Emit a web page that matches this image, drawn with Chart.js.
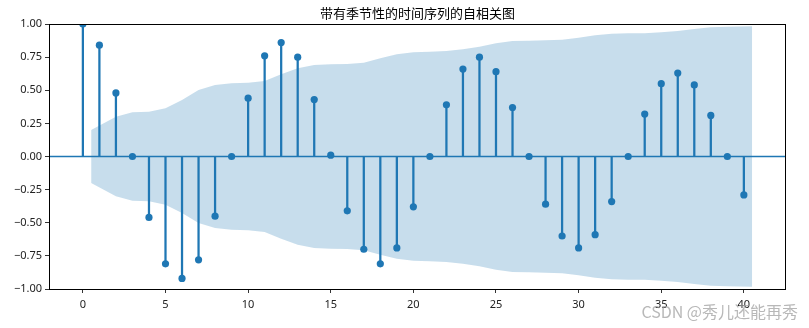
<!DOCTYPE html>
<html>
<head>
<meta charset="utf-8">
<script src="https://cdn.jsdelivr.net/npm/chart.js@4"></script>
<style>
  html, body { margin: 0; padding: 0; background: #fff; }
  #wrap { width: 809px; height: 328px; }
</style>
</head>
<body>
<div id="wrap"><canvas id="acfChart" width="809" height="328"></canvas></div>
<script>
// autocorrelation per lag
const lags = [0, 1, 2, 3, 4, 5, 6, 7, 8, 9, 10, 11, 12, 13, 14, 15, 16, 17, 18, 19, 20,
  21, 22, 23, 24, 25, 26, 27, 28, 29, 30, 31, 32, 33, 34, 35, 36, 37, 38, 39, 40];
const acfValues = [1.00, 0.84, 0.48, 0.00, -0.46, -0.81, -0.92, -0.78, -0.45, 0.00,
  0.44, 0.76, 0.86, 0.75, 0.43, 0.01, -0.41, -0.70, -0.81, -0.69,
  -0.38, 0.00, 0.39, 0.66, 0.75, 0.64, 0.37, 0.00, -0.36, -0.60,
  -0.69, -0.59, -0.34, 0.00, 0.32, 0.55, 0.63, 0.54, 0.31, 0.00, -0.29];

// 95% confidence band (symmetric around zero)
const bandLags = [0.5, 2, 3, 4, 5, 6, 7, 8, 9, 10, 11, 12, 13, 14, 15, 16, 17, 18, 19, 20,
  21, 22, 23, 24, 25, 26, 27, 28, 29, 30, 31, 32, 33, 34, 35, 36, 37, 38, 39, 40.5];
const bandUpper = [0.200, 0.300, 0.334, 0.338, 0.364, 0.426, 0.502, 0.540, 0.552, 0.557,
  0.570, 0.620, 0.666, 0.690, 0.696, 0.698, 0.708, 0.741, 0.771, 0.786,
  0.791, 0.796, 0.809, 0.829, 0.854, 0.872, 0.874, 0.877, 0.882, 0.897,
  0.915, 0.927, 0.930, 0.930, 0.937, 0.947, 0.962, 0.975, 0.980, 0.983];

const xTicks = [0, 5, 10, 15, 20, 25, 30, 35, 40];
const yTicks = [-1.00, -0.75, -0.50, -0.25, 0.00, 0.25, 0.50, 0.75, 1.00];

const titleText = '带有季节性的时间序列的自相关图';
const watermark = 'CSDN @秀儿还能再秀';

const blue = '#1f77b4';
const tickFont = { family: '"Noto Sans", "DejaVu Sans", sans-serif', size: 11 };

// zero line + black frame around the plot area
const framePlugin = {
  id: 'frame',
  afterDatasetsDraw(chart) {
    const { ctx, chartArea, scales } = chart;
    const y0 = scales.y.getPixelForValue(0);
    ctx.save();
    ctx.strokeStyle = blue;
    ctx.lineWidth = 1.5;
    ctx.beginPath();
    ctx.moveTo(chartArea.left, y0);
    ctx.lineTo(chartArea.right, y0);
    ctx.stroke();
    ctx.restore();
  },
  afterDraw(chart) {
    const { ctx, chartArea } = chart;
    ctx.save();
    ctx.strokeStyle = '#000';
    ctx.lineWidth = 1;
    ctx.strokeRect(chartArea.left + 0.5, chartArea.top + 0.5,
      chartArea.right - chartArea.left - 1, chartArea.bottom - chartArea.top);
    // site watermark
    ctx.font = '16px "Noto Sans CJK SC", sans-serif';
    ctx.fillStyle = 'rgba(160,160,160,0.75)';
    ctx.textAlign = 'right';
    ctx.textBaseline = 'middle';
    ctx.fillText(watermark, 798, 312);
    ctx.restore();
  }
};

const fmt = v => (v < 0 ? '\u2212' : '') + Math.abs(v).toFixed(2);

new Chart(document.getElementById('acfChart'), {
  data: {
    datasets: [
      {
        type: 'line',
        label: 'upper',
        data: bandLags.map((x, i) => ({ x, y: bandUpper[i] })),
        borderWidth: 0,
        pointRadius: 0,
        tension: 0,
        fill: '+1',
        backgroundColor: 'rgba(31,119,180,0.25)',
        order: 3
      },
      {
        type: 'line',
        label: 'lower',
        data: bandLags.map((x, i) => ({ x, y: -bandUpper[i] })),
        borderWidth: 0,
        pointRadius: 0,
        tension: 0,
        fill: false,
        order: 3
      },
      {
        type: 'bar',
        label: 'stems',
        data: lags.map((x, i) => ({ x, y: [0, acfValues[i]] })),
        backgroundColor: blue,
        borderWidth: 0,
        barThickness: 1.6,
        order: 2
      },
      {
        type: 'scatter',
        label: 'acf',
        data: lags.map((x, i) => ({ x, y: acfValues[i] })),
        pointRadius: 3.6,
        pointBackgroundColor: blue,
        pointBorderColor: blue,
        pointBorderWidth: 0,
        order: 1
      }
    ]
  },
  options: {
    responsive: false,
    animation: false,
    layout: { padding: { left: 0, right: 23, top: 0, bottom: 0 } },
    plugins: {
      legend: { display: false },
      tooltip: { enabled: false },
      title: {
        display: true,
        text: titleText,
        fullSize: false,
        color: '#000',
        font: { family: '"Noto Sans CJK SC", sans-serif', size: 13, weight: 'normal', lineHeight: 1.2 },
        padding: { top: 5, bottom: 3.4 }
      }
    },
    scales: {
      x: {
        type: 'linear',
        min: -2.05,
        max: 42.55,
        offset: false,
        afterBuildTicks: s => { s.ticks = xTicks.map(v => ({ value: v })); },
        afterFit: s => { s.height = 39; },
        ticks: { color: '#222', font: tickFont, padding: 5, maxRotation: 0, callback: v => String(v) },
        grid: { offset: false, drawOnChartArea: false, tickLength: 4, tickColor: '#000', tickWidth: 0.8 },
        border: { display: false }
      },
      y: {
        min: -1,
        max: 1,
        afterBuildTicks: s => { s.ticks = yTicks.map(v => ({ value: v })); },
        afterFit: s => { s.width = 49; },
        ticks: { color: '#222', font: tickFont, padding: 3, callback: v => fmt(v) },
        grid: { offset: false, drawOnChartArea: false, tickLength: 4, tickColor: '#000', tickWidth: 0.8 },
        border: { display: false }
      }
    }
  },
  plugins: [framePlugin]
});
</script>
</body>
</html>
